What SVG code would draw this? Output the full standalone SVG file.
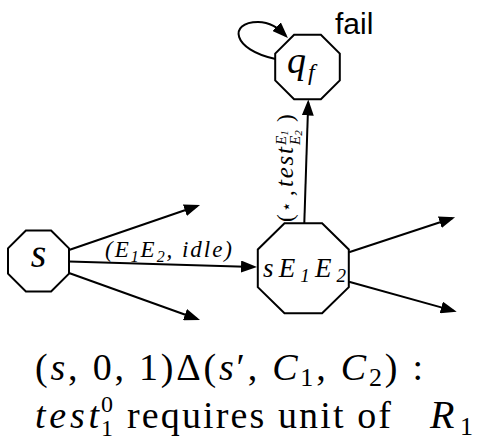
<svg xmlns="http://www.w3.org/2000/svg" width="479" height="440" viewBox="0 0 479 440">
<defs>
<marker id="arr" markerUnits="userSpaceOnUse" markerWidth="16" markerHeight="12" refX="13" refY="6" orient="auto">
<path d="M0,0 L16,6 L0,12 z" fill="#000"/>
</marker>
<style>
.node{fill:#fff;stroke:#000;stroke-width:2}
.edge{fill:none;stroke:#000;stroke-width:2;marker-end:url(#arr)}
text.m, text.m tspan{font-family:'Liberation Serif',serif !important;fill:#000}
text.sans{font-family:'Liberation Sans',sans-serif !important;fill:#000}
.i{font-style:italic}
</style>
</defs>
<rect width="479" height="440" fill="#fff"/>
<g id="connectors">
<path class="edge" d="M69,250 L197.2,206"/>
<path class="edge" d="M69,261.5 L254,266.9"/>
<path class="edge" d="M69,273 L197.2,319"/>
<path class="edge" d="M304.3,223.3 L308.2,102.5"/>
<path class="edge" d="M349,252.3 L452.2,218.2"/>
<path class="edge" d="M349,281.7 L453.8,310.9"/>
<path class="edge" d="M275.5,59 C232,50 228,22 258,22 C270,22 278,28 285.8,35.8"/>
<text class="m i" style="font-family:'Liberation Serif',serif !important" x="105" y="257" font-size="23" textLength="127" lengthAdjust="spacing">(E<tspan font-size="16" dy="5">1</tspan><tspan dy="-5">E</tspan><tspan font-size="16" dy="5">2</tspan><tspan dy="-5">, idle)</tspan></text>
<g transform="translate(293,222) rotate(-90)">
<text class="m" style="font-family:'Liberation Serif',serif !important" x="0" y="0" font-size="23">(</text>
<text class="m" style="font-family:'DejaVu Sans',sans-serif !important" x="10" y="-1" font-size="17">&#8902;</text>
<text class="m" style="font-family:'Liberation Serif',serif !important" x="26" y="0" font-size="23">,</text>
<text class="m i" style="font-family:'Liberation Serif',serif !important" x="35" y="0" font-size="25" textLength="40" lengthAdjust="spacing">test</text>
<text class="m i" style="font-family:'Liberation Serif',serif !important" x="77" y="-7" font-size="15">E<tspan font-size="11" dy="2">1</tspan></text>
<text class="m i" style="font-family:'Liberation Serif',serif !important" x="77" y="7" font-size="15">E<tspan font-size="11" dy="2">2</tspan></text>
<text class="m" style="font-family:'Liberation Serif',serif !important" x="100" y="0" font-size="23">)</text>
</g>
</g>
<g id="node-s">
<polygon class="node" points="25.9,230.5 51.1,230.5 69,248.4 69,273.6 51.1,291.5 25.9,291.5 8,273.6 8,248.4"/>
<text class="m i" style="font-family:'Liberation Serif',serif !important" x="38.5" y="267" font-size="40" text-anchor="middle">s</text>
</g>
<g id="node-sE1E2">
<polygon class="node" points="284.5,223.3 322.1,223.3 348.8,249.5 348.8,287.1 322.1,313.3 284.5,313.3 257.8,287.1 257.8,249.5"/>
<text class="m i" style="font-family:'Liberation Serif',serif !important" x="263" y="277" font-size="27" textLength="83" lengthAdjust="spacing">sE<tspan font-size="19" dy="5">1</tspan><tspan dy="-5">E</tspan><tspan font-size="19" dy="5">2</tspan></text>
</g>
<g id="node-qf">
<polygon class="node" points="294.1,34.7 320.9,34.7 339.8,53.6 339.8,80.4 320.9,99.3 294.1,99.3 275.2,80.4 275.2,53.6"/>
<text class="m i" style="font-family:'Liberation Serif',serif !important" x="287" y="73" font-size="38">q</text>
<text class="m i" style="font-family:'Liberation Serif',serif !important" x="308" y="80" font-size="24">f</text>
</g>
<text class="sans" style="font-family:'Liberation Sans',sans-serif !important" x="335" y="34" font-size="30">fail</text>
<g id="caption">
<text class="m" style="font-family:'Liberation Serif',serif !important" x="35" y="380" font-size="38" textLength="388" lengthAdjust="spacing">(<tspan class="i">s</tspan>, 0, 1)&#916;(<tspan class="i">s</tspan>&#8242;, <tspan class="i">C</tspan><tspan font-size="26" dy="6">1</tspan><tspan dy="-6">, </tspan><tspan class="i">C</tspan><tspan font-size="26" dy="6">2</tspan><tspan dy="-6">) :</tspan></text>
<text class="m i" style="font-family:'Liberation Serif',serif !important" x="35" y="428" font-size="38" textLength="64" lengthAdjust="spacing">test</text>
<text class="m" style="font-family:'Liberation Serif',serif !important" x="101" y="412" font-size="24">0</text>
<text class="m" style="font-family:'Liberation Serif',serif !important" x="101" y="436" font-size="24">1</text>
<text class="m" style="font-family:'Liberation Serif',serif !important" x="127" y="428" font-size="38" textLength="264" lengthAdjust="spacing">requires unit of</text>
<text class="m i" style="font-family:'Liberation Serif',serif !important" x="430" y="428" font-size="40">R</text>
<text class="m" style="font-family:'Liberation Serif',serif !important" x="460" y="435" font-size="26">1</text>
</g>
</svg>
